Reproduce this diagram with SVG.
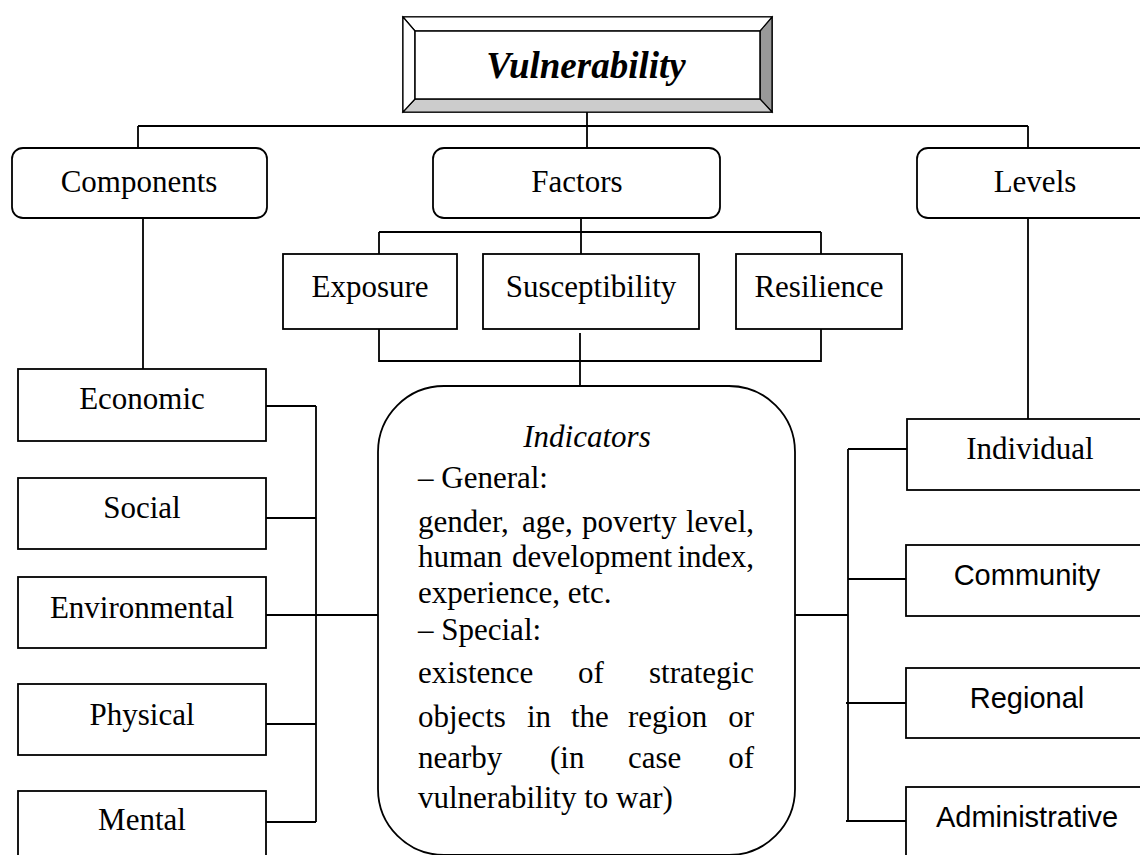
<svg xmlns="http://www.w3.org/2000/svg" width="1140" height="855" viewBox="0 0 1140 855">
<style>
.box{fill:#fff;stroke:#000;stroke-width:1.8}
.ln{fill:none;stroke:#000;stroke-width:1.8}
.t{font-family:"Liberation Serif","Times New Roman",serif;font-size:31px;fill:#000}
.s{font-family:"Liberation Sans",Arial,sans-serif;font-size:29px;fill:#000}
.c{text-anchor:middle}
.e{text-anchor:end}
</style>
<rect width="1140" height="855" fill="#fff"/>
<g id="connectors">
<path class="ln" d="M587 112V148M138 126H1028M138 126V156M1028 126V152"/>
<path class="ln" d="M143 218V369M1028 218V419"/>
<path class="ln" d="M581 218V232M379 232H821M379 232V254M581 232V254M821 232V254"/>
<path class="ln" d="M379 329V361H821V329M580 333V386"/>
<path class="ln" d="M263 406H316M263 518H316M263 615H378M263 724H316M263 822H316M316 406V822"/>
<path class="ln" d="M848 449H907M848 579H907M795 615H848M846 703H907M846 821H907M848 449V821"/>
</g>
<g id="title">
<rect x="403" y="17" width="369" height="95" fill="#fff" stroke="#000" stroke-width="1.5"/>
<polygon points="760,31 772,17 772,112 760,99" fill="#999" stroke="#000" stroke-width="1.2"/>
<polygon points="415,99 760,99 772,112 403,112" fill="#ccc" stroke="#000" stroke-width="1.2"/>
<polygon points="403,17 772,17 760,31 415,31" fill="#fff" stroke="#000" stroke-width="1.2"/>
<polygon points="403,17 415,31 415,99 403,112" fill="#fff" stroke="#000" stroke-width="1.2"/>
<rect x="415" y="31" width="345" height="68" fill="#fff" stroke="#000" stroke-width="1.5"/>
<text class="t c" x="586" y="78" style="font-size:37px;font-weight:bold;font-style:italic">Vulnerability</text>
</g>
<g id="components"><rect class="box" x="12" y="148" width="255" height="70" rx="11"/><text class="t c" x="139" y="192">Components</text></g>
<g id="factors"><rect class="box" x="433" y="148" width="287" height="70" rx="11"/><text class="t c" x="577" y="192">Factors</text></g>
<g id="levels"><rect class="box" x="917" y="148" width="240" height="70" rx="11"/><text class="t c" x="1035" y="192">Levels</text></g>
<g id="exposure"><rect class="box" x="283" y="254" width="174" height="75"/><text class="t c" x="370" y="297">Exposure</text></g>
<g id="susceptibility"><rect class="box" x="483" y="254" width="216" height="75"/><text class="t c" x="591" y="297">Susceptibility</text></g>
<g id="resilience"><rect class="box" x="736" y="254" width="166" height="75"/><text class="t c" x="819" y="297">Resilience</text></g>
<g id="economic"><rect class="box" x="18" y="369" width="248" height="72"/><text class="t c" x="142" y="409">Economic</text></g>
<g id="social"><rect class="box" x="18" y="478" width="248" height="71"/><text class="t c" x="142" y="518">Social</text></g>
<g id="environmental"><rect class="box" x="18" y="577" width="248" height="71"/><text class="t c" x="142" y="618">Environmental</text></g>
<g id="physical"><rect class="box" x="18" y="684" width="248" height="71"/><text class="t c" x="142" y="725">Physical</text></g>
<g id="mental"><rect class="box" x="18" y="791" width="248" height="80"/><text class="t c" x="142" y="830">Mental</text></g>
<g id="individual"><rect class="box" x="907" y="419" width="250" height="71"/><text class="t c" x="1030" y="459">Individual</text></g>
<g id="community"><rect class="box" x="906" y="545" width="250" height="71"/><text class="s c" x="1027" y="585">Community</text></g>
<g id="regional"><rect class="box" x="906" y="668" width="250" height="70"/><text class="s c" x="1027" y="708">Regional</text></g>
<g id="administrative"><rect class="box" x="906" y="787" width="250" height="80"/><text class="s c" x="1027" y="827">Administrative</text></g>
<g id="indicators">
<rect class="box" x="378" y="386" width="417" height="469" rx="66"/>
<text class="t c" x="587" y="447" style="font-style:italic">Indicators</text>
<text class="t" x="418" y="488">– General:</text>
<text class="t" x="418" y="532">gender,</text><text class="t" x="522" y="532">age,</text><text class="t" x="582" y="532">poverty</text><text class="t e" x="754" y="532">level,</text>
<text class="t" x="418" y="567">human</text><text class="t" x="512" y="567">development</text><text class="t e" x="754" y="567">index,</text>
<text class="t" x="418" y="603">experience, etc.</text>
<text class="t" x="418" y="640">– Special:</text>
<text class="t" x="418" y="683">existence</text><text class="t" x="578" y="683">of</text><text class="t e" x="754" y="683">strategic</text>
<text class="t" x="418" y="727">objects</text><text class="t" x="527" y="727">in</text><text class="t" x="571" y="727">the</text><text class="t" x="628" y="727">region</text><text class="t e" x="754" y="727">or</text>
<text class="t" x="418" y="768">nearby</text><text class="t" x="550" y="768">(in</text><text class="t" x="628" y="768">case</text><text class="t e" x="754" y="768">of</text>
<text class="t" x="418" y="808">vulnerability to war)</text>
</g>
</svg>
